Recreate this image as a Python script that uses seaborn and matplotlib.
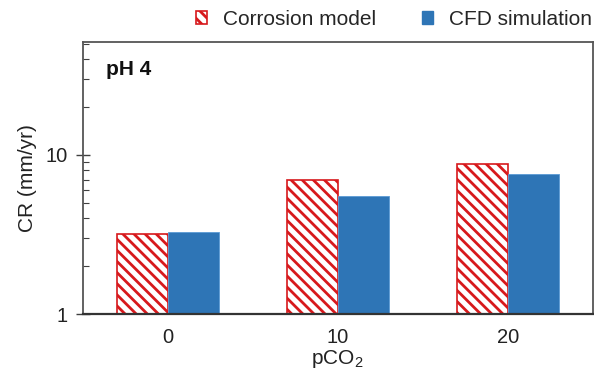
import matplotlib
matplotlib.use("Agg")
import matplotlib.pyplot as plt
import seaborn as sns
import pandas as pd
from matplotlib.patches import Patch
from matplotlib.ticker import LogLocator, NullFormatter, FixedLocator

categories = ["0", "10", "20"]
corrosion_model = [3.2, 7.0, 8.8]
cfd_simulation = [3.3, 5.55, 7.55]
series_names = ["Corrosion model", "CFD simulation"]

red = "#d7191c"
blue = "#2e75b6"

sns.set_theme(style="white")
plt.rcParams["font.family"] = ["Liberation Sans", "DejaVu Sans"]
plt.rcParams["hatch.linewidth"] = 2.0
plt.rcParams["hatch.color"] = red

df = pd.DataFrame({
    "pCO2": categories * 2,
    "CR": corrosion_model + cfd_simulation,
    "Series": [series_names[0]] * 3 + [series_names[1]] * 3,
})

fig = plt.figure(figsize=(5.94, 3.77), dpi=100)
ax = fig.add_axes([0.139, 0.167, 0.859, 0.721])

sns.barplot(data=df, x="pCO2", y="CR", hue="Series", order=categories,
            hue_order=series_names, palette=[red, blue], width=0.6,
            ax=ax, legend=False, saturation=1)

for p in ax.containers[0]:
    p.set_facecolor("white")
    p.set_edgecolor(red)
    p.set_hatch("\\\\\\")
    p.set_linewidth(1.2)
for p in ax.containers[1]:
    p.set_edgecolor("#5b9bd5")
    p.set_linewidth(0.6)

ax.set_yscale("log")
ax.set_ylim(1, 51)
ax.set_xlim(-0.5, 2.5)
ax.yaxis.set_major_locator(FixedLocator([1, 10]))
ax.set_yticklabels(["1", "10"])
ax.yaxis.set_minor_locator(LogLocator(base=10, subs=range(2, 10)))
ax.yaxis.set_minor_formatter(NullFormatter())
ax.tick_params(axis="y", which="major", direction="inout", length=10, width=1,
               color="#404040", labelsize=14.5, left=True, pad=6)
ax.tick_params(axis="y", which="minor", direction="in", length=4, width=0.8,
               color="#404040", left=True)
ax.tick_params(axis="x", length=0, labelsize=14.5, pad=10, colors="#222222")
ax.tick_params(axis="y", which="major", labelcolor="#222222")

for s in ax.spines.values():
    s.set_visible(True)
    s.set_color("#555555")
    s.set_linewidth(1.3)
ax.spines["bottom"].set_color("#333333")
ax.spines["bottom"].set_linewidth(1.6)

ax.set_xlabel("pCO$_\\mathregular{2}$", fontsize=15, color="#222222", labelpad=1)
ax.set_ylabel("CR (mm/yr)", fontsize=15, color="#222222", labelpad=6)

ax.text(0.045, 0.9, "pH 4", transform=ax.transAxes, fontsize=15,
        fontweight="bold", va="center", ha="left", color="#111111")

handles = [
    Patch(facecolor="white", edgecolor=red, hatch="\\\\\\", linewidth=1.2,
          label=series_names[0]),
    Patch(facecolor=blue, edgecolor=blue, label=series_names[1]),
]
fig.legend(handles=handles, loc="center", bbox_to_anchor=(0.663, 0.948),
           ncol=2, frameon=False, fontsize=15, handlelength=0.55,
           handleheight=0.55, handletextpad=0.75, columnspacing=2.2)

fig.savefig("out.png", dpi=100)
